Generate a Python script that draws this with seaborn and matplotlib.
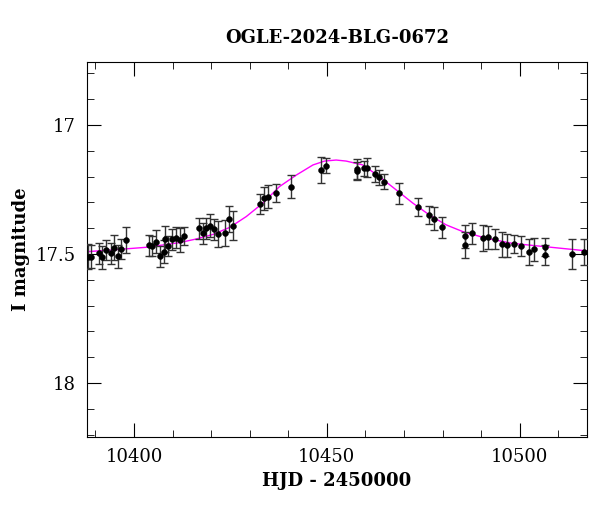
import matplotlib
matplotlib.use("Agg")
import matplotlib.pyplot as plt
import seaborn as sns
import pandas as pd
from matplotlib.ticker import MultipleLocator

hjd = [10388.1,10388.9,10390.8,10391.8,10392.8,10393.9,10394.8,10395.9,10396.7,10397.8,
       10403.8,10404.7,10405.8,10406.7,10407.8,10407.9,10408.8,10409.8,10410.8,10411.8,10412.9,
       10416.8,10417.8,10418.7,10419.8,10420.7,10421.8,10423.7,10424.7,10425.7,
       10432.6,10433.7,10434.7,10436.7,10440.6,10448.6,10449.7,
       10457.8,10457.9,10459.6,10460.5,10462.6,10463.6,10464.7,10468.6,10473.6,10476.5,10477.8,10479.8,
       10485.7,10485.8,10487.6,10490.4,10491.8,10493.5,10495.4,10496.7,10498.6,10500.4,10502.5,10503.7,
       10506.5,10506.5,10513.6,10516.8]
mag = [17.510,17.510,17.497,17.513,17.484,17.497,17.475,17.509,17.481,17.446,
       17.466,17.469,17.453,17.509,17.491,17.443,17.469,17.443,17.437,17.446,17.430,
       17.401,17.420,17.401,17.391,17.404,17.422,17.420,17.364,17.390,
       17.307,17.284,17.278,17.262,17.239,17.174,17.158,
       17.171,17.177,17.168,17.165,17.191,17.203,17.220,17.265,17.317,17.350,17.363,17.397,
       17.432,17.465,17.420,17.438,17.435,17.442,17.463,17.466,17.461,17.469,17.493,17.482,
       17.474,17.504,17.500,17.491]
err = [0.05,0.045,0.04,0.045,0.04,0.04,0.05,0.045,0.04,0.05,
       0.04,0.04,0.045,0.04,0.045,0.05,0.04,0.04,0.04,0.045,0.035,
       0.04,0.04,0.04,0.045,0.04,0.05,0.05,0.05,0.055,
       0.04,0.045,0.045,0.035,0.045,0.05,0.03,
       0.04,0.035,0.03,0.035,0.03,0.03,0.03,0.04,0.035,0.035,0.045,0.04,
       0.045,0.05,0.04,0.05,0.045,0.04,0.05,0.045,0.035,0.04,0.05,0.045,
       0.035,0.04,0.06,0.05]

model_t = [10387.8,10394.6,10403.2,10411.8,10416.1,10420.5,10424.8,10429.1,10433.4,10437.7,10442.1,
           10446.4,10449.4,10452.4,10455.0,10459.3,10463.6,10468.0,10472.3,10476.6,10480.9,10485.2,
           10491.3,10498.2,10506.8,10517.4]
model_m = [17.491,17.484,17.474,17.456,17.442,17.424,17.397,17.355,17.303,17.239,17.194,
           17.155,17.140,17.136,17.140,17.155,17.200,17.252,17.303,17.349,17.387,17.413,
           17.439,17.459,17.472,17.488]

plt.rcParams["font.family"] = "DejaVu Serif"
fig = plt.figure(figsize=(6, 5.12), dpi=100)
ax = fig.add_axes([0.145, 0.146, 0.833, 0.733])

sns.lineplot(x=model_t, y=model_m, ax=ax, color="magenta", lw=1, zorder=2)
for t, m, e in zip(hjd, mag, err):
    ax.errorbar(t, m, yerr=e, fmt="none", ecolor="#333333", elinewidth=1, capsize=3, zorder=3)
df = pd.DataFrame({"t": hjd, "m": mag})
sns.scatterplot(data=df, x="t", y="m", ax=ax, color="black", s=18, edgecolor="black", zorder=4)

ax.set_xlim(10387.8, 10517.4)
ax.set_ylim(18.21, 16.756)
ax.xaxis.set_major_locator(MultipleLocator(50))
ax.xaxis.set_minor_locator(MultipleLocator(10))
ax.yaxis.set_major_locator(MultipleLocator(0.5))
ax.yaxis.set_minor_locator(MultipleLocator(0.1))
ax.yaxis.set_major_formatter(matplotlib.ticker.FuncFormatter(lambda v, p: f"{v:g}"))
ax.tick_params(which="both", direction="in", top=True, right=True, labelsize=13, pad=8)
ax.tick_params(which="major", length=10)
ax.tick_params(which="minor", length=5)
ax.set_xlabel("HJD - 2450000", fontsize=13, weight="semibold")
ax.set_ylabel("I magnitude", fontsize=13, weight="semibold")
ax.set_title("OGLE-2024-BLG-0672", fontsize=13, pad=14, weight="semibold")
fig.savefig("out.png", dpi=100)
